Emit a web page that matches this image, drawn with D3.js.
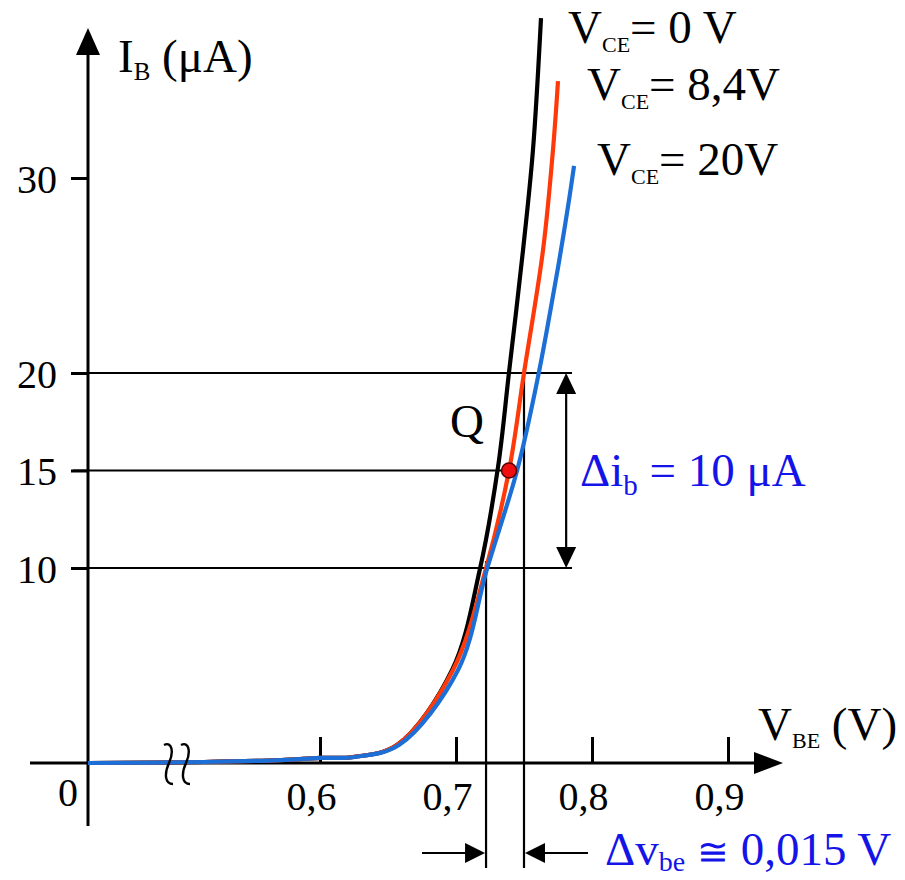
<!DOCTYPE html>
<html><head><meta charset="utf-8">
<script src="https://cdn.jsdelivr.net/npm/d3@7"></script>
<style>
html,body{margin:0;padding:0;background:#fff;}
svg text{font-family:"Liberation Serif","Times New Roman",serif;}
</style></head>
<body>
<svg id="chart" width="905" height="880"></svg>
<script>
// ---- data ----
const vbeTicks = [0.6, 0.7, 0.8, 0.9];
const vbeTickLabels = ["0,6", "0,7", "0,8", "0,9"];
const ibTicks = [10, 15, 20, 30];
const ibTickLabels = ["10", "15", "20", "30"];

const seriesNames = ["V_CE = 0 V", "V_CE = 8,4V", "V_CE = 20V"];
const vbe0 = [0, 0.3, 0.5, 0.6, 0.6243, 0.6566, 0.6971, 0.7176, 0.7309, 0.739, 0.7493, 0.7566, 0.7625];
const ib0  = [0, 0.05, 0.15, 0.26, 0.31, 0.92, 4.77, 9.95, 15.18, 20.05, 26.31, 31.44, 38.2];
const vbe1 = [0, 0.3, 0.5, 0.6, 0.6243, 0.6566, 0.6978, 0.7221, 0.739, 0.750, 0.764, 0.7713, 0.775];
const ib1  = [0, 0.05, 0.15, 0.26, 0.31, 0.92, 4.77, 10.0, 15.0, 20.0, 26.31, 31.44, 34.97];
const vbe2 = [0, 0.3, 0.5, 0.6, 0.6257, 0.658, 0.7015, 0.7228, 0.7456, 0.761, 0.7721, 0.7772, 0.7831, 0.7868];
const ib2  = [0, 0.05, 0.15, 0.26, 0.31, 0.92, 4.77, 9.95, 15.18, 20.05, 24.26, 26.31, 28.87, 30.62];

const qVbe = 0.739, qIb = 15;
const ibLow = 10, ibHigh = 20;
const vbeLow = 0.7221, vbeHigh = 0.750;

// ---- layout ----
const svg = d3.select("#chart");
const x = d3.scaleLinear().domain([0, 0.6, 0.9]).range([88, 320, 728]); // broken axis
const y = d3.scaleLinear().domain([0, 30]).range([763, 178]);
const colors = ["#000000", "#ff3a0a", "#1b6fd6"];
const annBlue = "#1414e8";
const FS = 47;

function arrowHead(cx, cy, dir, len, half) {
  let p;
  if (dir === "up") p = [[cx, cy], [cx - half, cy + len], [cx + half, cy + len]];
  if (dir === "down") p = [[cx, cy], [cx - half, cy - len], [cx + half, cy - len]];
  if (dir === "right") p = [[cx, cy], [cx - len, cy - half], [cx - len, cy + half]];
  if (dir === "left") p = [[cx, cy], [cx + len, cy - half], [cx + len, cy + half]];
  svg.append("path").attr("d", "M" + p.map(d => d.join(",")).join("L") + "Z").attr("fill", "#000");
}

// ---- axes ----
const yAxis = d3.axisLeft(y).tickValues(ibTicks).tickSize(17).tickPadding(14)
  .tickFormat((d, i) => ibTickLabels[i]);
const gy = svg.append("g").attr("transform", `translate(${x(0)},0)`).call(yAxis);
gy.select(".domain").remove();
gy.selectAll(".tick line").attr("stroke", "#000").attr("stroke-width", 3);
gy.selectAll(".tick text").attr("font-size", 40).attr("fill", "#000")
  .attr("font-family", "Liberation Serif").attr("dy", "0.35em");

const xAxis = d3.axisBottom(x).tickValues(vbeTicks).tickSizeInner(-26).tickSizeOuter(0).tickPadding(19)
  .tickFormat((d, i) => vbeTickLabels[i]);
const gx = svg.append("g").attr("transform", `translate(0,${y(0)})`).call(xAxis);
gx.select(".domain").remove();
gx.selectAll(".tick line").attr("stroke", "#000").attr("stroke-width", 3);
gx.selectAll(".tick text").attr("font-size", 40).attr("fill", "#000")
  .attr("font-family", "Liberation Serif").attr("dx", -9);

svg.append("line").attr("x1", x(0)).attr("x2", x(0)).attr("y1", 50).attr("y2", 826)
  .attr("stroke", "#000").attr("stroke-width", 3);
arrowHead(x(0), 28, "up", 27, 12);
svg.append("line").attr("x1", 30).attr("x2", 760).attr("y1", y(0)).attr("y2", y(0))
  .attr("stroke", "#000").attr("stroke-width", 3);
arrowHead(783, y(0), "right", 29, 11);

svg.append("text").attr("x", 58).attr("y", 806).attr("font-size", 40).text("0");

// ---- guide lines ----
const gridEndV = 0.7853;
[ibHigh, ibLow].forEach(v => {
  svg.append("line").attr("x1", 73).attr("x2", x(gridEndV)).attr("y1", y(v)).attr("y2", y(v))
    .attr("stroke", "#000").attr("stroke-width", 2.2);
});
svg.append("line").attr("x1", 73).attr("x2", x(qVbe)).attr("y1", y(qIb)).attr("y2", y(qIb))
  .attr("stroke", "#000").attr("stroke-width", 2.2);
svg.append("line").attr("x1", x(vbeLow)).attr("x2", x(vbeLow)).attr("y1", y(ibLow) - 7).attr("y2", 868)
  .attr("stroke", "#000").attr("stroke-width", 2.2);
svg.append("line").attr("x1", x(vbeHigh)).attr("x2", x(vbeHigh)).attr("y1", y(ibHigh) - 5).attr("y2", 868)
  .attr("stroke", "#000").attr("stroke-width", 2.2);

// ---- curves ----
const line = d3.line().x(d => x(d[0])).y(d => y(d[1])).curve(d3.curveCatmullRom.alpha(0.5));
const curves = [d3.zip(vbe0, ib0), d3.zip(vbe1, ib1), d3.zip(vbe2, ib2)];
curves.forEach((c, i) => {
  svg.append("path").attr("d", line(c)).attr("fill", "none")
    .attr("stroke", colors[i]).attr("stroke-width", 4.2).attr("stroke-linecap", "butt");
});

// axis break symbol
[0, 17].forEach(off => {
  const bx = 164 + off;
  svg.append("path")
    .attr("d", `M${bx},745 C${bx + 8},741 ${bx + 10},752 ${bx + 5},763 C${bx},774 ${bx + 1},784 ${bx + 9},784`)
    .attr("fill", "none").attr("stroke", "#000").attr("stroke-width", 2.4);
});

// Q point
svg.append("circle").attr("cx", x(qVbe)).attr("cy", y(qIb)).attr("r", 7.5)
  .attr("fill", "#ee1010").attr("stroke", "#5a0000").attr("stroke-width", 1.5);
svg.append("text").attr("x", 450).attr("y", 437).attr("font-size", FS).text("Q");

// delta ib double arrow
const dax = x(0.781);
svg.append("line").attr("x1", dax).attr("x2", dax).attr("y1", y(ibHigh) + 15).attr("y2", y(ibLow) - 15)
  .attr("stroke", "#000").attr("stroke-width", 2.2);
arrowHead(dax, y(ibHigh), "up", 21, 10);
arrowHead(dax, y(ibLow), "down", 21, 10);

// delta vbe arrows
const ay = 853;
svg.append("line").attr("x1", 422).attr("x2", x(vbeLow) - 15).attr("y1", ay).attr("y2", ay)
  .attr("stroke", "#000").attr("stroke-width", 2.2);
arrowHead(x(vbeLow) - 1, ay, "right", 20, 10);
svg.append("line").attr("x1", x(vbeHigh) + 15).attr("x2", 588).attr("y1", ay).attr("y2", ay)
  .attr("stroke", "#000").attr("stroke-width", 2.2);
arrowHead(x(vbeHigh) + 1, ay, "left", 20, 10);

// ---- text labels ----
function subText(xp, yp, parts, fill) {
  const t = svg.append("text").attr("x", xp).attr("y", yp).attr("fill", fill || "#000");
  parts.forEach(p => {
    const ts = t.append("tspan").text(p.t).attr("font-size", p.fs || FS);
    if (p.dy) ts.attr("dy", p.dy);
  });
  return t;
}
subText(118, 72, [{t: "I"}, {t: "B", fs: 25, dy: 8}, {t: " (μA)", dy: -8}]);
subText(758, 740, [{t: "V"}, {t: "BE", fs: 22, dy: 8}, {t: " (V)", dy: -8}]);
subText(568, 43, [{t: "V"}, {t: "CE", fs: 22, dy: 9}, {t: "= 0 V", dy: -9}]);
subText(587, 100, [{t: "V"}, {t: "CE", fs: 22, dy: 9}, {t: "= 8,4V", dy: -9}]);
subText(597, 175, [{t: "V"}, {t: "CE", fs: 22, dy: 9}, {t: "= 20V", dy: -9}]);
subText(580, 486, [{t: "Δi"}, {t: "b", fs: 29, dy: 9}, {t: " = 10 μA", dy: -9}], annBlue);
subText(605, 865, [{t: "Δv"}, {t: "be", fs: 28, dy: 6}, {t: " ", dy: -6}, {t: "≅", fs: 38}, {t: " 0,015 V"}], annBlue);
</script>
</body></html>
